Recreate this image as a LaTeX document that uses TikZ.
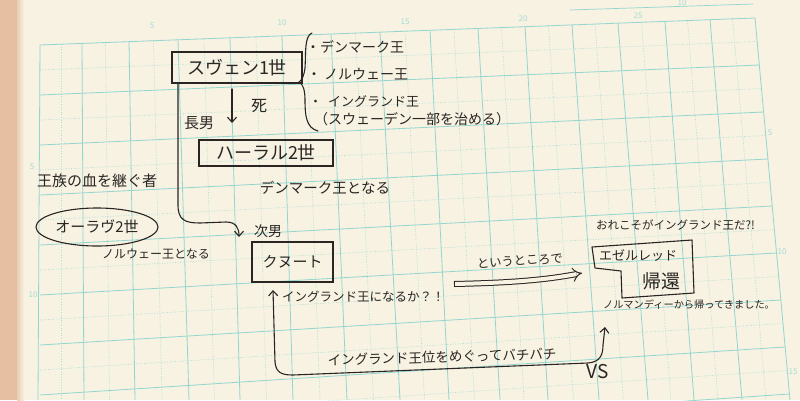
\documentclass[tikz,border=0pt]{standalone}
\usepackage{fontspec}
\newfontfamily\jp{Noto Sans CJK JP}
\usetikzlibrary{arrows.meta,shapes.geometric}
\definecolor{paper}{HTML}{F7F2E2}
\definecolor{gridc}{HTML}{93D6D0}
\definecolor{ink}{HTML}{2A2522}
\definecolor{edgec}{HTML}{E6BFA2}
\definecolor{rulerc}{HTML}{A6DCD6}
\newcommand\jpf[1]{\fontsize{#1}{#1}\selectfont}
\begin{document}
\begin{tikzpicture}[x=1pt,y=-1pt,
  pen/.style={draw=ink,line width=1.1pt,line cap=round,line join=round},
  txt/.style={text=ink,inner sep=0pt,font=\jp},
  box/.style={draw=ink,line width=1.1pt,text=ink,inner sep=0pt,font=\jp,rectangle},
  barb/.style={-{Straight Barb[length=5pt,width=9pt]}},
  barbs/.style={{Straight Barb[length=5pt,width=9pt]}-{Straight Barb[length=5pt,width=9pt]}},
  major/.style={draw=gridc,line width=0.8pt},
  minor/.style={draw=gridc!75!paper,line width=0.6pt,dash pattern=on 1pt off 1.6pt},
  ruler/.style={text=rulerc,inner sep=0pt,font=\jp\jpf{8}}
]
\useasboundingbox (0,0) rectangle (800,400);
% paper
\fill[paper] (0,0) rectangle (800,400);
\fill[edgec] (0,0) rectangle (17,400);
\fill[left color=edgec!70!paper,right color=paper] (17,0) rectangle (24,400);
% grid
\begin{scope}
\clip (0,0) rectangle (800,400);
\foreach \t/\b in {40/38,82/84,129/135,178/189,230/240,282/293,331/347,380/400,430/449,478/500,525/548,572/599,618/648,665/694,710/742,755/790}{
  \pgfmathsetmacro\yt{45-(\t-40)/715*27}
  \draw[major] (\t,\yt) -- (\b,400);
}
\foreach \t/\b in {61/61,105.5/109.5,153.5/162,204/214.5,256/266.5,306.5/320,355.5/373.5,405/424.5,454/474.5,501.5/524,548.5/573.5,595/623.5,641.5/671,687.5/718,732.5/766}{
  \pgfmathsetmacro\yt{45-(\t-40)/715*27}
  \draw[minor] (\t,\yt) -- (\b,400);
}
\foreach \k in {0,...,8}{
  \pgfmathsetmacro\yl{45+50*\k}
  \pgfmathsetmacro\yr{18+47*\k}
  \pgfmathsetmacro\xr{755+(\yr-18)/382*35}
  \draw[major] (40,\yl) -- (\xr,\yr);
}
\foreach \k in {0,...,7}{
  \pgfmathsetmacro\yl{70+50*\k}
  \pgfmathsetmacro\yr{41.5+47*\k}
  \pgfmathsetmacro\xr{755+(\yr-18)/382*35}
  \draw[minor] (40,\yl) -- (\xr,\yr);
}
\draw[draw=gridc,line width=0.7pt] (570,10) -- (753,4);
\end{scope}
% ruler numbers
\node[ruler] (r1) at (152,26) {5};
\node[ruler] (r2) at (282,23) {10};
\node[ruler] (r3) at (405,22) {15};
\node[ruler] (r4) at (523,19) {20};
\node[ruler] (r5) at (638,16) {25};
\node[ruler] (r6) at (682,3) {10};
\node[ruler] (r7) at (770,133) {5};
\node[ruler] (r8) at (782,252) {10};
\node[ruler] (r9) at (793,372) {15};
\node[ruler] (r10) at (32,167) {5};
\node[ruler] (r11) at (33,295) {10};

% Sven I
\node[box,minimum width=130pt,minimum height=31pt,font=\jp\jpf{18}] (sven) at (237,67.5) {スヴェン1世};
% brace and list
\draw[pen] (312,33) .. controls (304,36) and (306,55) .. (305,68) .. controls (304,76) and (302,80) .. (299,82) .. controls (303,84) and (305,90) .. (305,100) .. controls (305,115) and (306,128) .. (318,131);
\node[txt,anchor=west,font=\jp\jpf{14}] (l1) at (306,47) {・デンマーク王};
\node[txt,anchor=west,font=\jp\jpf{14}] (l2) at (307,74) {・\hspace{3pt}ノルウェー王};
\node[txt,anchor=west,font=\jp\jpf{13}] (l3) at (309,101) {・\hspace{6pt}イングランド王};
\node[txt,anchor=west,font=\jp\jpf{14}] (l4) at (314,119) {（スウェーデン一部を治める）};
% death arrow
\coordinate (d1) at (232,89);
\coordinate (d2) at (232,123);
\draw[pen,barb] (d1) -- (d2);
\node[txt,font=\jp\jpf{16}] (shi) at (259,106) {死};
\node[txt,font=\jp\jpf{15}] (chonan) at (199,123) {長男};
% Harald II
\node[box,minimum width=134pt,minimum height=26pt,font=\jp\jpf{18}] (harald) at (266,153) {ハーラル2世};
\node[txt,font=\jp\jpf{14.5}] (dk) at (325,188) {デンマーク王となる};
% Olav II
\node[txt,font=\jp\jpf{15}] (blood) at (97,181) {王族の血を継ぐ者};
\node[pen,ellipse,minimum width=122pt,minimum height=38pt,inner sep=0pt,text=ink,font=\jp\jpf{15}] (olav) at (97,227) {オーラヴ2世};
\node[txt,font=\jp\jpf{12}] (nor) at (156,254) {ノルウェー王となる};
% line from Sven to Knut
\coordinate (s1) at (178,83);
\coordinate (k0) at (239,237);
\draw[pen,barb] (s1) -- (178,205) .. controls (178,220) and (185,223) .. (200,223) -- (226,222) .. controls (236,222) and (239,228) .. (k0);
\node[txt,font=\jp\jpf{14}] (jinan) at (268,231) {次男};
% Knut
\node[box,minimum width=81pt,minimum height=40pt,font=\jp\jpf{15}] (knut) at (292.5,262) {クヌート};
\node[txt,anchor=west,font=\jp\jpf{12.5}] (q) at (282,297) {イングランド王になるか？！};
% double arrow
\coordinate (da1) at (454,284);
\coordinate (da2) at (582,273);
\draw[draw=ink,line width=1pt,double=paper,double distance=4pt,-{Implies}] (da1) .. controls (500,283) and (540,281) .. (da2);
\draw[pen,line width=1pt] (454,281.5) -- (454,286.5);
\node[txt,font=\jp\jpf{12.3},rotate=4] (tk) at (520,261) {というところで};
% Ethelred
\node[txt,anchor=west,font=\jp\jpf{11.5}] (ore) at (596,225) {おれこそがイングランド王だ?!};
\coordinate (e1) at (592,247);
\coordinate (e2) at (692,240);
\coordinate (e3) at (694,293);
\coordinate (e4) at (622,298);
\coordinate (e5) at (621,271);
\coordinate (e6) at (595,268);
\draw[pen] (e1) -- (e2) -- (e3) -- (e4) -- (e5) -- (e6) -- cycle;
\node[txt,font=\jp\jpf{13}] (eth) at (638,256) {エゼルレッド};
\node[txt,font=\jp\jpf{19}] (ret) at (661,281) {帰還};
\node[txt,font=\jp\jpf{10.2}] (norm) at (689,305) {ノルマンディーから帰ってきました。};
% VS connector
\coordinate (u1) at (273,290);
\coordinate (u2) at (605,327);
\draw[pen,barbs] (u1) -- (275,362) .. controls (276,373) and (282,375) .. (293,375) -- (588,363) .. controls (600,362) and (603,355) .. (603,345) -- (u2);
\node[txt,font=\jp\jpf{13.5},rotate=1.5] (fight) at (442,357) {イングランド王位をめぐってバチバチ};
\node[txt,font=\jp\jpf{19}] (vs) at (598,372) {VS};
\end{tikzpicture}
\end{document}
